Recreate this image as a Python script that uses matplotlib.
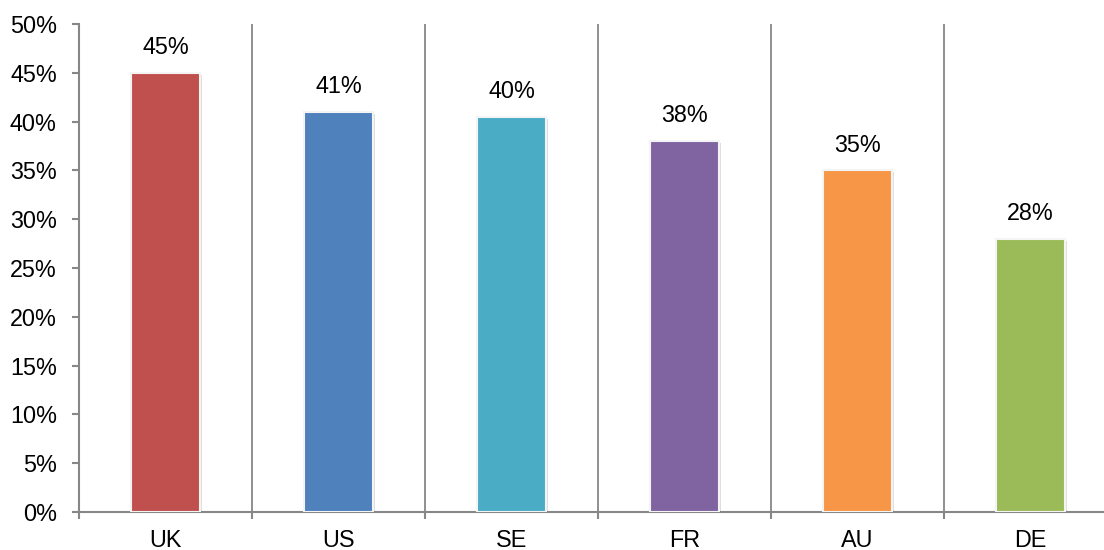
import numpy as np
import matplotlib

matplotlib.use("Agg")
import matplotlib.pyplot as plt
import matplotlib.patheffects as pe
from matplotlib.ticker import FixedLocator, PercentFormatter

countries = ["UK", "US", "SE", "FR", "AU", "DE"]
shares = [45, 41, 40.5, 38, 35, 28]
labels = ["45%", "41%", "40%", "38%", "35%", "28%"]
colors = ["#C0504D", "#4F81BD", "#4BACC6", "#8064A2", "#F79646", "#9BBB59"]

plt.rcParams["font.family"] = ["Liberation Sans", "DejaVu Sans"]
GREY = "#878787"
FS = 16.8

fig = plt.figure(figsize=(11.04, 5.5), dpi=100)
ax = fig.add_axes([79 / 1104, 38 / 550, 1038 / 1104, 488 / 550])

x = np.arange(len(countries))
bars = ax.bar(x, shares, width=0.4, color=colors, edgecolor="#f4f4f4",
              linewidth=1.5, zorder=3)
for b in bars:
    b.set_path_effects([pe.SimplePatchShadow(offset=(1.5, -1.5), alpha=0.15),
                        pe.Normal()])

for xi, v, lab in zip(x, shares, labels):
    ax.annotate(lab, (xi, v), xytext=(0, 10), textcoords="offset points",
                ha="center", va="bottom", fontsize=FS)

ax.set_xlim(-0.5, len(countries) - 0.5)
ax.set_ylim(0, 50)
ax.set_yticks(np.arange(0, 51, 5))
ax.yaxis.set_major_formatter(PercentFormatter(decimals=0))
ax.set_xticks(x)
ax.set_xticklabels(countries)
ax.xaxis.set_minor_locator(FixedLocator(np.arange(-0.5, len(countries), 1)))

ax.tick_params(axis="x", which="major", length=0, pad=12, labelsize=FS)
ax.tick_params(axis="x", which="minor", length=5, width=1.5, color=GREY,
               direction="out")
ax.tick_params(axis="y", length=5, width=1.5, color=GREY, pad=11,
               labelsize=FS)
ax.grid(axis="x", which="minor", color=GREY, linewidth=1.3, zorder=0)

for side in ["top", "right"]:
    ax.spines[side].set_visible(False)
for side in ["left", "bottom"]:
    ax.spines[side].set_color(GREY)
    ax.spines[side].set_linewidth(1.5)

fig.savefig("out.png", dpi=100)
